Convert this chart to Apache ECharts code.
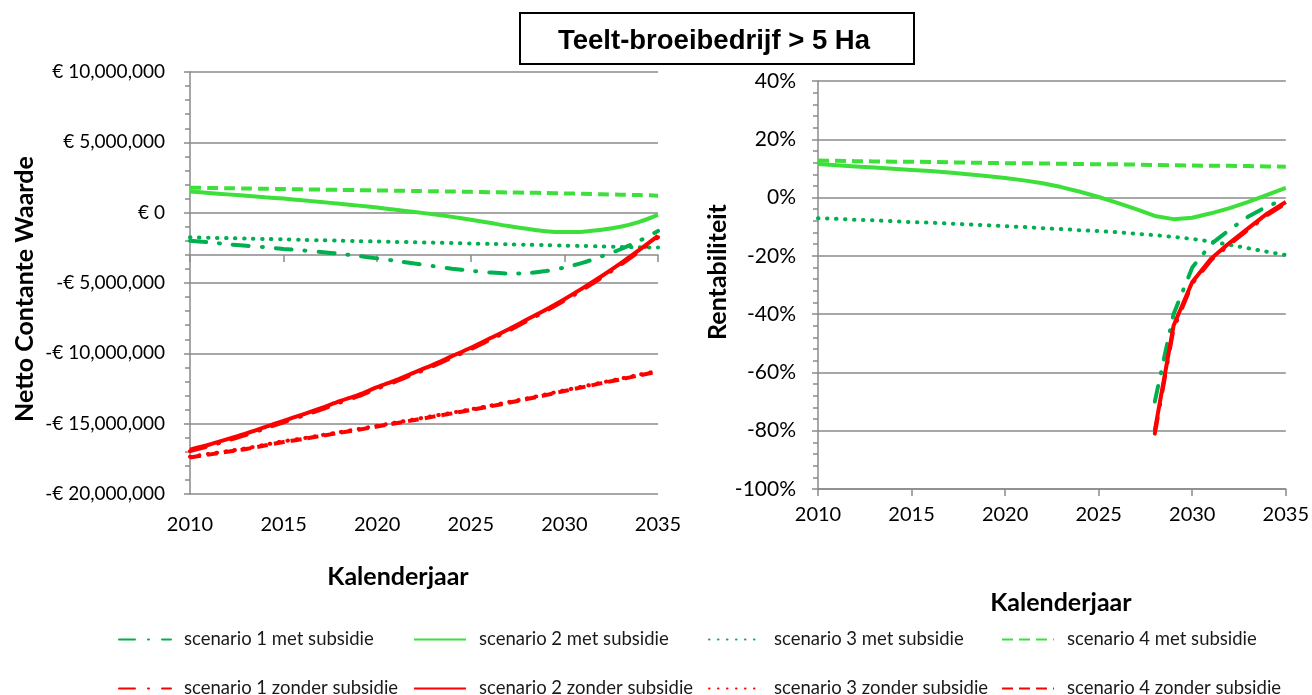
<!DOCTYPE html>
<html>
<head>
<meta charset="utf-8">
<script src="https://cdn.jsdelivr.net/npm/echarts@6/dist/echarts.min.js"></script>
<style>
  html, body { margin: 0; padding: 0; background: #fff; }
  #chart { width: 1312px; height: 695px; }
</style>
</head>
<body>
<div id="chart"></div>
<script>
const years = [2010, 2011, 2012, 2013, 2014, 2015, 2016, 2017, 2018, 2019, 2020, 2021, 2022,
  2023, 2024, 2025, 2026, 2027, 2028, 2029, 2030, 2031, 2032, 2033, 2034, 2035];

// Netto Contante Waarde, in millions of euro
const ncwS1Met = [-2.0, -2.1, -2.25, -2.35, -2.45, -2.58, -2.68, -2.8, -2.93, -3.08, -3.25, -3.43, -3.62,
  -3.8, -3.98, -4.13, -4.25, -4.32, -4.3, -4.15, -3.9, -3.55, -3.1, -2.6, -2.0, -1.3];
const ncwS2Met = [1.5, 1.4, 1.3, 1.2, 1.1, 1.0, 0.88, 0.76, 0.63, 0.5, 0.36, 0.2, 0.05,
  -0.12, -0.3, -0.5, -0.72, -0.95, -1.15, -1.32, -1.38, -1.35, -1.22, -1.0, -0.65, -0.15];
const ncwS3Met = [-1.75, -1.78, -1.81, -1.84, -1.87, -1.9, -1.93, -1.96, -1.99, -2.02, -2.05, -2.08, -2.1,
  -2.13, -2.16, -2.19, -2.22, -2.25, -2.28, -2.31, -2.34, -2.37, -2.4, -2.43, -2.46, -2.48];
const ncwS4Met = [1.78, 1.76, 1.74, 1.72, 1.7, 1.68, 1.66, 1.64, 1.62, 1.6, 1.58, 1.56, 1.54,
  1.52, 1.5, 1.48, 1.46, 1.44, 1.42, 1.4, 1.37, 1.34, 1.31, 1.28, 1.25, 1.21];
const ncwS1Zonder = [-16.95, -16.6, -16.2, -15.8, -15.35, -14.9, -14.45, -14.0, -13.5, -13.05, -12.5, -12.0, -11.45,
  -10.9, -10.3, -9.7, -9.05, -8.4, -7.7, -7.0, -6.25, -5.45, -4.6, -3.7, -2.75, -1.75];
const ncwS2Zonder = [-16.85, -16.5, -16.1, -15.7, -15.25, -14.8, -14.35, -13.9, -13.4, -12.95, -12.4, -11.9, -11.35,
  -10.8, -10.2, -9.6, -8.95, -8.3, -7.6, -6.9, -6.15, -5.35, -4.5, -3.6, -2.65, -1.65];
const ncwS3Zonder = [-17.35, -17.15, -16.95, -16.75, -16.5, -16.25, -16.05, -15.82, -15.6, -15.38, -15.15, -14.92, -14.69,
  -14.45, -14.22, -13.98, -13.73, -13.47, -13.2, -12.92, -12.63, -12.35, -12.07, -11.8, -11.52, -11.25];
const ncwS4Zonder = [-17.4, -17.2, -17.0, -16.8, -16.55, -16.3, -16.1, -15.87, -15.65, -15.43, -15.2, -14.97, -14.74,
  -14.5, -14.27, -14.03, -13.78, -13.52, -13.25, -12.97, -12.68, -12.4, -12.12, -11.85, -11.57, -11.3];

// Rentabiliteit, in percent
const renS1Met = [null, null, null, null, null, null, null, null, null, null, null, null, null,
  null, null, null, null, null, -70, -40, -24, -16, -11, -6.5, -3, -0.5];
const renS2Met = [11.5, 11.1, 10.7, 10.3, 9.9, 9.5, 9.1, 8.6, 8.0, 7.4, 6.7, 5.9, 4.9,
  3.6, 2.0, 0.2, -1.8, -4.0, -6.3, -7.4, -6.9, -5.4, -3.6, -1.5, 0.9, 3.3];
const renS3Met = [-7.1, -7.3, -7.6, -7.8, -8.1, -8.4, -8.6, -8.9, -9.2, -9.5, -9.8, -10.1, -10.5,
  -10.8, -11.2, -11.5, -11.9, -12.4, -12.9, -13.5, -14.2, -15.1, -16.2, -17.4, -18.6, -19.7];
const renS4Met = [12.7, 12.6, 12.5, 12.4, 12.3, 12.3, 12.2, 12.1, 12.0, 11.9, 11.8, 11.8, 11.7,
  11.6, 11.5, 11.4, 11.4, 11.3, 11.2, 11.1, 11.0, 10.9, 10.9, 10.8, 10.7, 10.6];
const renS1Zonder = [null, null, null, null, null, null, null, null, null, null, null, null, null,
  null, null, null, null, null, -81, -45, -29.5, -21.5, -16, -11, -6, -2];
const renS2Zonder = [null, null, null, null, null, null, null, null, null, null, null, null, null,
  null, null, null, null, null, -80, -44, -29, -21, -15.5, -10.5, -5.5, -1.5];

const names = [
  'scenario 1 met subsidie', 'scenario 2 met subsidie', 'scenario 3 met subsidie', 'scenario 4 met subsidie',
  'scenario 1 zonder subsidie', 'scenario 2 zonder subsidie', 'scenario 3 zonder subsidie', 'scenario 4 zonder subsidie',
];

const darkGreen = '#00b050';
const lightGreen = '#3ddf3a';
const red = '#ff0000';
const dashDot = [16, 13, 1, 13];
const dashed = [11, 6];
const dotted = [0.5, 8.5];
const font = 'Lato';

const looks = [
  { color: darkGreen, type: dashDot, width: 4, cap: 'round' },
  { color: lightGreen, type: 'solid', width: 4, cap: 'butt' },
  { color: darkGreen, type: dotted, width: 4, cap: 'round' },
  { color: lightGreen, type: dashed, width: 4, cap: 'butt' },
  { color: red, type: dashDot, width: 4, cap: 'round' },
  { color: red, type: 'solid', width: 4, cap: 'butt' },
  { color: red, type: dotted, width: 4, cap: 'round' },
  { color: red, type: dashed, width: 4, cap: 'butt' },
];

const line = (idx, data, axis, smooth) => {
  const look = looks[idx];
  return {
    name: names[idx],
    type: 'line',
    xAxisIndex: axis,
    yAxisIndex: axis,
    symbol: 'none',
    smooth,
    silent: true,
    lineStyle: { color: look.color, type: look.type, width: look.width, cap: look.cap },
    itemStyle: { color: look.color },
    data: years.map((y, i) => [y, data[i]]),
  };
};

const euro = (v) => {
  const s = String(Math.abs(Math.round(v * 1e6))).replace(/\B(?=(\d{3})+(?!\d))/g, ',');
  return (v < 0 ? '-' : '') + '€ ' + s;
};
const year = (v) => String(v);

const grey = '#8a8a8a';
const titleText = (padding) => ({ fontFamily: font, fontWeight: 'bold', fontSize: 25, color: '#000', padding });

const valueYAxis = (extra) => Object.assign({
  type: 'value',
  nameLocation: 'middle',
  nameRotate: 90,
  axisLine: { show: true, lineStyle: { color: grey, width: 1.5 } },
  axisTick: { show: true, inside: false, length: 6, lineStyle: { color: grey, width: 1.5 } },
  minorTick: { show: true, splitNumber: 5, length: 5, lineStyle: { color: grey, width: 1.5 } },
  splitLine: { show: true, lineStyle: { color: grey, width: 1.5 } },
}, extra);

const yearAxis = (extra) => Object.assign({
  type: 'value',
  min: 2010,
  max: 2035,
  interval: 5,
  position: 'bottom',
  nameLocation: 'middle',
  splitLine: { show: false },
  axisLine: { show: true, onZero: false, lineStyle: { color: grey, width: 1.5 } },
  axisTick: { show: true, length: 7, lineStyle: { color: grey, width: 1.5 } },
  axisLabel: { fontFamily: font, fontSize: 20, color: '#000', formatter: year },
}, extra);

// one legend per entry, laid out as Excel's 4 x 2 grid
const legendLeft = [118, 413, 708, 1001];
const legendTop = [630, 679];
const legendItem = (idx) => ({
  left: legendLeft[idx % 4], top: legendTop[Math.floor(idx / 4)], padding: 0,
  itemWidth: 52, itemHeight: 14,
  selectedMode: false,
  itemStyle: { opacity: 0 },
  textStyle: { fontFamily: font, fontSize: 18.5, lineHeight: 16, color: '#1a1a1a', padding: [0, 0, 0, 8] },
  data: [names[idx]],
});

const chart = echarts.init(document.getElementById('chart'), null, { renderer: 'canvas' });
chart.setOption({
  animation: false,
  backgroundColor: '#fff',
  grid: [
    { left: 190, top: 72, width: 468, height: 422 },
    { left: 818, top: 81, width: 469, height: 408 },
  ],
  xAxis: [
    yearAxis({
      gridIndex: 0, name: 'Kalenderjaar', nameGap: 70, nameTextStyle: titleText([0, 52, 0, 0]),
      axisLine: { show: false, onZero: false }, axisTick: { show: false },
      axisLabel: { fontFamily: font, fontSize: 20, color: '#000', margin: 21, formatter: year },
    }),
    yearAxis({
      gridIndex: 1, name: 'Kalenderjaar', nameGap: 101, nameTextStyle: titleText([0, 0, 0, 18]),
      axisLabel: { fontFamily: font, fontSize: 20, color: '#000', margin: 16, formatter: year },
    }),
    // Excel draws the horizontal axis of the left chart crossing at -3,000,000
    yearAxis({ gridIndex: 0, offset: -239, axisLabel: { show: false } }),
  ],
  yAxis: [
    valueYAxis({
      gridIndex: 0, min: -20, max: 10, interval: 5,
      name: 'Netto Contante Waarde', nameGap: 153, nameTextStyle: titleText([0, 12, 0, 0]),
      axisLabel: { fontFamily: font, fontSize: 19, color: '#000', margin: 25, formatter: euro },
    }),
    valueYAxis({
      gridIndex: 1, min: -100, max: 40, interval: 20,
      name: 'Rentabiliteit', nameGap: 80, nameTextStyle: titleText([0, 0, 0, 26]),
      axisLabel: { fontFamily: font, fontSize: 21, color: '#000', margin: 22, formatter: (v) => v + '%' },
    }),
  ],
  legend: names.map((n, i) => legendItem(i)),
  graphic: [
    { type: 'rect', shape: { x: 520, y: 13, width: 394, height: 51 },
      style: { fill: '#fff', stroke: '#000', lineWidth: 2 } },
    { type: 'text', x: 714, y: 41,
      style: { text: 'Teelt-broeibedrijf > 5 Ha', font: 'bold 27.5px "Liberation Sans"', fill: '#000',
        align: 'center', verticalAlign: 'middle' } },
  ],
  series: [
    line(0, ncwS1Met, 0, 0.3),
    line(1, ncwS2Met, 0, 0.3),
    line(2, ncwS3Met, 0, 0.3),
    line(3, ncwS4Met, 0, 0.3),
    line(4, ncwS1Zonder, 0, 0.3),
    line(5, ncwS2Zonder, 0, 0.3),
    line(6, ncwS3Zonder, 0, 0.3),
    line(7, ncwS4Zonder, 0, 0.3),
    line(0, renS1Met, 1, false),
    line(1, renS2Met, 1, false),
    line(2, renS3Met, 1, false),
    line(3, renS4Met, 1, false),
    line(4, renS1Zonder, 1, false),
    line(5, renS2Zonder, 1, false),
  ],
});
</script>
</body>
</html>
